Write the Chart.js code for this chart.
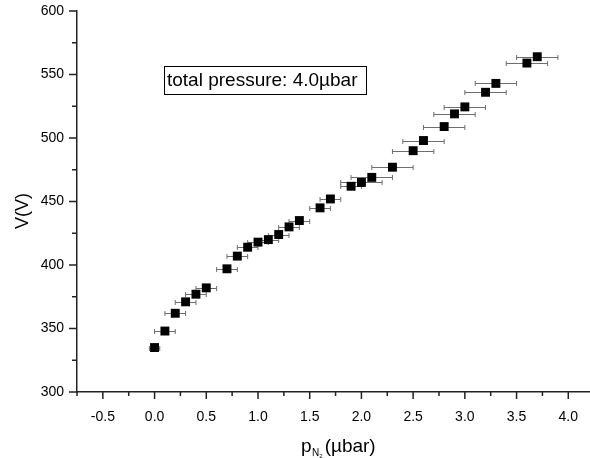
<!DOCTYPE html>
<html>
<head>
<meta charset="utf-8">
<script src="https://cdn.jsdelivr.net/npm/chart.js@4.4.1/dist/chart.umd.min.js"></script>
<style>
  html, body { margin: 0; padding: 0; background: #fff; overflow: hidden; }
  #wrap { width: 590px; height: 458px; position: relative; }
  canvas { display: block; }
</style>
</head>
<body>
<div id="wrap"><canvas id="chart"></canvas></div>
<script>
(function() {
    'use strict';

    // --- Data ---
    const pressureN2 = [0.0, 0.1, 0.2, 0.3, 0.4, 0.5, 0.7, 0.8, 0.9, 1.0, 1.1, 1.2, 1.3, 1.4, 1.6, 1.7,
                        1.9, 2.0, 2.1, 2.3, 2.5, 2.6, 2.8, 2.9, 3.0, 3.2, 3.3, 3.6, 3.7];
    const voltage = [335, 348, 362, 371, 377, 382, 397, 407, 414, 418, 420, 424, 430, 435, 445, 452,
                     462, 465, 469, 477, 490, 498, 509, 519, 524.5, 536, 543, 559, 564];
    const pressureErr = [0.05, 0.1, 0.1, 0.1, 0.1, 0.1, 0.1, 0.1, 0.1, 0.1, 0.1, 0.1, 0.1, 0.1, 0.1, 0.1,
                         0.1, 0.2, 0.2, 0.2, 0.2, 0.2, 0.2, 0.2, 0.2, 0.2, 0.2, 0.2, 0.2];
    const xTicks = [-0.5, 0.0, 0.5, 1.0, 1.5, 2.0, 2.5, 3.0, 3.5, 4.0];
    const xMinorTicks = [-0.75, -0.25, 0.25, 0.75, 1.25, 1.75, 2.25, 2.75, 3.25, 3.75];
    const yTicks = [300, 350, 400, 450, 500, 550, 600];
    const yMinorTicks = [325, 375, 425, 475, 525, 575];
    const annotationText = 'total pressure: 4.0\u00b5bar';

    const FONT = 'Arial, "Liberation Sans", sans-serif';

    // horizontal error bars, drawn under the markers
    const errorBars = {
        id: 'errorBars',
        beforeDatasetsDraw(chart) {
            const ctx = chart.ctx, xs = chart.scales.x, ys = chart.scales.y;
            ctx.save();
            ctx.strokeStyle = '#6e6e6e';
            ctx.lineWidth = 1;
            pressureN2.forEach((p, i) => {
                const y = Math.round(ys.getPixelForValue(voltage[i])) + 0.5;
                const x0 = xs.getPixelForValue(p - pressureErr[i]);
                const x1 = xs.getPixelForValue(p + pressureErr[i]);
                ctx.beginPath();
                ctx.moveTo(x0, y); ctx.lineTo(x1, y);
                ctx.moveTo(x0, y - 2.5); ctx.lineTo(x0, y + 2.5);
                ctx.moveTo(x1, y - 2.5); ctx.lineTo(x1, y + 2.5);
                ctx.stroke();
            });
            ctx.restore();
        }
    };

    // outward ticks (major + minor), axis titles and the text box
    const decorations = {
        id: 'decorations',
        afterDraw(chart) {
            const ctx = chart.ctx, xs = chart.scales.x, ys = chart.scales.y;
            const area = chart.chartArea;
            ctx.save();
            ctx.strokeStyle = '#222';
            ctx.lineWidth = 1.5;
            ctx.beginPath();
            xTicks.concat(xMinorTicks).forEach(v => {
                const len = xTicks.includes(v) ? 7 : 4;
                const x = xs.getPixelForValue(v);
                ctx.moveTo(x, area.bottom); ctx.lineTo(x, area.bottom + len);
            });
            yTicks.concat(yMinorTicks).forEach(v => {
                const len = yTicks.includes(v) ? 8 : 5;
                const y = ys.getPixelForValue(v);
                ctx.moveTo(area.left, y); ctx.lineTo(area.left - len, y);
            });
            ctx.stroke();

            ctx.fillStyle = '#000';
            // y title
            ctx.save();
            ctx.translate(23, 211);
            ctx.rotate(-Math.PI / 2);
            ctx.font = '18px ' + FONT;
            ctx.textAlign = 'center';
            ctx.textBaseline = 'middle';
            ctx.fillText('V(V)', 0, 0);
            ctx.restore();

            // x title with subscript
            ctx.textBaseline = 'alphabetic';
            ctx.textAlign = 'left';
            const big = '19px ' + FONT, small = '10px ' + FONT;
            let x = 301;
            const base = 452;
            ctx.font = big; ctx.fillText('p', x, base); x += ctx.measureText('p').width + 0.5;
            ctx.font = small; ctx.fillText('N', x, base + 4); x += ctx.measureText('N').width;
            ctx.font = '6px ' + FONT; ctx.fillText('2', x, base + 6); x += ctx.measureText('2').width + 2;
            ctx.font = big; ctx.fillText('(\u00b5bar)', x, base);

            // annotation box
            ctx.strokeStyle = '#000';
            ctx.lineWidth = 1;
            ctx.strokeRect(164.5, 66.5, 202, 28);
            ctx.font = '19px ' + FONT;
            ctx.textAlign = 'left';
            ctx.textBaseline = 'middle';
            ctx.fillText(annotationText, 167, 81);
            ctx.restore();
        }
    };

    new Chart(document.getElementById('chart'), {
        type: 'scatter',
        data: {
            datasets: [{
                data: pressureN2.map((p, i) => ({ x: p, y: voltage[i] })),
                pointStyle: 'rect',
                pointRadius: 6.3,
                pointHoverRadius: 6.3,
                backgroundColor: '#000',
                borderColor: '#000',
                borderWidth: 0
            }]
        },
        options: {
            responsive: true,
            maintainAspectRatio: false,
            animation: false,
            events: [],
            layout: { autoPadding: false, padding: { top: 11, right: 0, left: 0, bottom: 0 } },
            plugins: { legend: { display: false }, tooltip: { enabled: false } },
            scales: {
                x: {
                    type: 'linear',
                    min: -0.75,
                    max: 4.21,
                    grid: { display: false, drawTicks: false },
                    border: { display: true, color: '#222', width: 1.5 },
                    afterBuildTicks: s => { s.ticks = xTicks.map(v => ({ value: v })); },
                    afterFit: s => {
                        s.height = 66;
                        s.paddingLeft = 0; s.paddingRight = 0;
                    },
                    ticks: {
                        padding: 17,
                        color: '#000',
                        font: { family: FONT, size: 14 },
                        callback: v => v.toFixed(1)
                    }
                },
                y: {
                    type: 'linear',
                    min: 300,
                    max: 600,
                    grid: { display: false, drawTicks: false },
                    border: { display: true, color: '#222', width: 1.5 },
                    afterBuildTicks: s => { s.ticks = yTicks.map(v => ({ value: v })); },
                    afterFit: s => {
                        s.width = 77;
                        s.paddingTop = 0; s.paddingBottom = 0;
                    },
                    ticks: {
                        padding: 13,
                        color: '#000',
                        font: { family: FONT, size: 14 }
                    }
                }
            }
        },
        plugins: [errorBars, decorations]
    });
})();
</script>
</body>
</html>
